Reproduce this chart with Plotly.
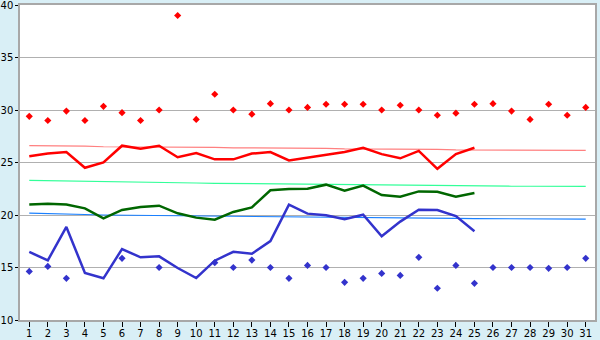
import plotly.graph_objects as go

days = list(range(1, 32))
days25 = list(range(1, 26))

max_temp = [29.4, 29.0, 29.9, 29.0, 30.35, 29.75, 29.0, 30.0, 39.0, 29.1,
            31.5, 30.0, 29.6, 30.6, 30.0, 30.25, 30.55, 30.55, 30.55, 30.0,
            30.45, 30.0, 29.5, 29.7, 30.55, 30.6, 29.9, 29.1, 30.55, 29.5, 30.25]

min_temp = [14.63, 15.1, 13.97, None, None, 15.87, None, 15.0, None, None,
            15.46, 15.0, 15.71, 15.0, 13.97, 15.2, 15.0, 13.59, 13.97, 14.44,
            14.25, 15.97, 13.02, 15.2, 13.49, 15.0, 15.0, 15.0, 14.92, 15.0, 15.87]

max_avg = [25.6, 25.85, 26.0, 24.5, 25.0, 26.6, 26.3, 26.6, 25.5, 25.9,
           25.3, 25.3, 25.85, 26.0, 25.2, 25.45, 25.7, 26.0, 26.4, 25.8,
           25.4, 26.1, 24.4, 25.8, 26.4]

mean_avg = [21.0, 21.08, 21.0, 20.63, 19.68, 20.48, 20.76, 20.89, 20.16, 19.75,
            19.55, 20.29, 20.73, 22.35, 22.48, 22.5, 22.89, 22.32, 22.8, 21.9,
            21.75, 22.25, 22.22, 21.75, 22.1]

min_avg = [16.48, 15.68, 18.86, 14.48, 13.97, 16.76, 15.97, 16.06, 14.95, 14.0,
           15.65, 16.5, 16.31, 17.52, 20.98, 20.13, 19.97, 19.59, 20.03, 17.97,
           19.37, 20.5, 20.48, 19.9, 18.45]

max_normal = [26.6, 26.6, 26.55, 26.55, 26.5, 26.5, 26.5, 26.5, 26.5, 26.45,
              26.45, 26.4, 26.4, 26.4, 26.35, 26.35, 26.35, 26.3, 26.3, 26.3,
              26.25, 26.25, 26.25, 26.2, 26.2, 26.2, 26.2, 26.15, 26.15, 26.15, 26.15]

mean_normal = [23.3, 23.28, 23.25, 23.2, 23.18, 23.15, 23.12, 23.1, 23.08, 23.05,
               23.02, 23.0, 22.98, 22.95, 22.93, 22.9, 22.88, 22.86, 22.84, 22.82,
               22.8, 22.79, 22.78, 22.77, 22.76, 22.75, 22.74, 22.74, 22.73, 22.73, 22.73]

min_normal = [20.17, 20.15, 20.1, 20.05, 20.0, 19.98, 19.95, 19.93, 19.9, 19.88,
              19.86, 19.84, 19.82, 19.8, 19.79, 19.78, 19.77, 19.76, 19.75, 19.74,
              19.72, 19.7, 19.68, 19.67, 19.66, 19.65, 19.64, 19.62, 19.61, 19.6, 19.6]

fig = go.Figure()

fig.add_trace(go.Scatter(x=days, y=max_normal, mode="lines",
                         line=dict(color="#ff8080", width=1.2)))
fig.add_trace(go.Scatter(x=days, y=mean_normal, mode="lines",
                         line=dict(color="#33ff99", width=1.2)))
fig.add_trace(go.Scatter(x=days, y=min_normal, mode="lines",
                         line=dict(color="#1a80ff", width=1.2)))

fig.add_trace(go.Scatter(x=days25, y=max_avg, mode="lines",
                         line=dict(color="#ff0000", width=2.5)))
fig.add_trace(go.Scatter(x=days25, y=mean_avg, mode="lines",
                         line=dict(color="#006600", width=2.5)))
fig.add_trace(go.Scatter(x=days25, y=min_avg, mode="lines",
                         line=dict(color="#3333cc", width=2.5)))

fig.add_trace(go.Scatter(x=days, y=max_temp, mode="markers",
                         marker=dict(symbol="diamond", size=5.5, color="#ff0000")))
fig.add_trace(go.Scatter(x=days, y=min_temp, mode="markers",
                         marker=dict(symbol="diamond", size=5.5, color="#3333cc")))

fig.update_layout(
    width=600, height=340,
    margin=dict(l=20, r=5, t=5, b=20, autoexpand=False),
    paper_bgcolor="#d9eff6",
    plot_bgcolor="#ffffff",
    showlegend=False,
    font=dict(family="DejaVu Sans", size=10, color="#000000"),
)
fig.update_xaxes(range=[0.5, 31.5], tickvals=days, ticktext=[str(d) for d in days],
                 showgrid=False, zeroline=False, showline=True, linecolor="#a8a8a8",
                 linewidth=1.5, mirror=True, ticks="outside", ticklen=5,
                 tickcolor="#000000", tickwidth=1, automargin=False,
                 ticklabelstandoff=-2, ticklabeloverflow="allow")
fig.update_yaxes(range=[10, 40], dtick=5, showgrid=True, gridcolor="#b0b0b0",
                 gridwidth=1, zeroline=False, showline=True, linecolor="#a8a8a8",
                 linewidth=1.5, mirror=True, ticks="outside", ticklen=3,
                 tickcolor="#000000", tickwidth=1, automargin=False,
                 ticklabeloverflow="allow")

fig.write_html("out.html")
